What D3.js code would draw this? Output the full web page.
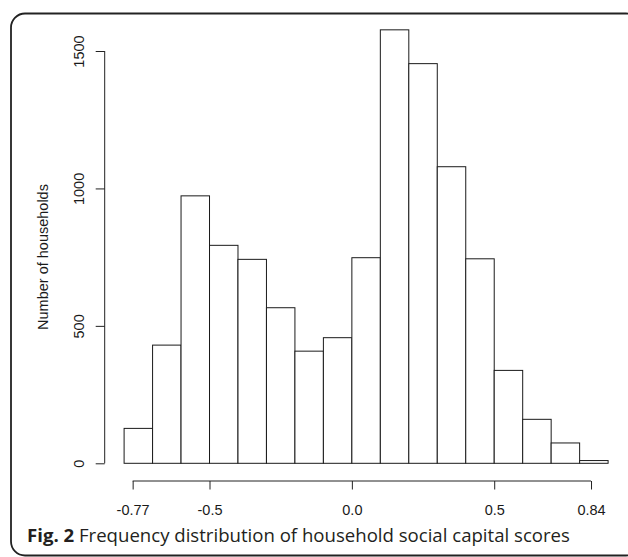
<!DOCTYPE html>
<html>
<head>
<meta charset="utf-8">
<script src="https://cdn.jsdelivr.net/npm/d3@7"></script>
<style>
  html, body { margin: 0; padding: 0; background: #fff; }
  svg { display: block; }
</style>
</head>
<body>
<svg id="chart" width="628" height="557"></svg>
<script>
// ---- Data ----
const binStarts = [-0.8, -0.7, -0.6, -0.5, -0.4, -0.3, -0.2, -0.1, 0.0, 0.1, 0.2, 0.3, 0.4, 0.5, 0.6, 0.7, 0.8];
const binWidth = 0.1;
const counts = [127, 430, 973, 793, 742, 566, 408, 457, 748, 1577, 1454, 1079, 744, 338, 160, 74, 10];
const xTickValues = [-0.77, -0.5, 0.0, 0.5, 0.84];
const xTickLabels = ["-0.77", "-0.5", "0.0", "0.5", "0.84"];
const yTickValues = [0, 500, 1000, 1500];
const yTitle = "Number of households";
const captionBold = "Fig. 2";
const captionText = " Frequency distribution of household social capital scores";

const svg = d3.select("#chart");

// frame
svg.append("rect")
  .attr("x", 11).attr("y", 13.5)
  .attr("width", 629).attr("height", 542)
  .attr("rx", 14).attr("ry", 14)
  .attr("fill", "none").attr("stroke", "#222").attr("stroke-width", 1.8);

const x = d3.scaleLinear().domain([-0.8, 0.9]).range([124.1, 608.1]);
const y = d3.scaleLinear().domain([0, 1500]).range([463.3, 51]);

const bins = binStarts.map((s, i) => ({ x0: s, x1: s + binWidth, n: counts[i] }));

svg.append("g").selectAll("rect").data(bins).join("rect")
  .attr("x", d => x(d.x0))
  .attr("y", d => y(d.n))
  .attr("width", d => x(d.x1) - x(d.x0))
  .attr("height", d => y(0) - y(d.n))
  .attr("fill", "#fff")
  .attr("stroke", "#1a1a1a")
  .attr("stroke-width", 1);

const font = "'Liberation Sans', Arial, Helvetica, sans-serif";

// x axis (R-style: line spans first to last tick)
const xAxis = d3.axisBottom(x)
  .tickValues(xTickValues)
  .tickFormat((d, i) => xTickLabels[i])
  .tickSizeInner(8.5).tickSizeOuter(0).tickPadding(16);
const gx = svg.append("g").attr("transform", "translate(0,481)").call(xAxis);
gx.select(".domain").remove();
gx.append("line")
  .attr("x1", x(xTickValues[0])).attr("x2", x(xTickValues[xTickValues.length - 1]))
  .attr("y1", 0).attr("y2", 0)
  .attr("stroke", "#222").attr("stroke-width", 1);
gx.selectAll(".tick line").attr("stroke", "#222");
gx.selectAll(".tick text")
  .attr("font-family", font).attr("font-size", 14.5).attr("fill", "#1a1a1a")
  .attr("dy", null).attr("y", 33.5);

// y axis
const yAxis = d3.axisLeft(y)
  .tickValues(yTickValues)
  .tickFormat(d3.format("d"))
  .tickSizeInner(9).tickSizeOuter(0);
const gy = svg.append("g").attr("transform", "translate(104.7,0)").call(yAxis);
gy.select(".domain").remove();
gy.append("line")
  .attr("x1", 0).attr("x2", 0)
  .attr("y1", y(0)).attr("y2", y(1500))
  .attr("stroke", "#222").attr("stroke-width", 1);
gy.selectAll(".tick line").attr("stroke", "#222");
gy.selectAll(".tick text")
  .attr("font-family", font).attr("font-size", 14.5).attr("fill", "#1a1a1a")
  .attr("x", null).attr("dy", null)
  .attr("text-anchor", "middle")
  .attr("transform", "translate(-20.7,0) rotate(-90)");

// y title
svg.append("text")
  .attr("transform", "translate(48,257) rotate(-90)")
  .attr("text-anchor", "middle")
  .attr("font-family", font).attr("font-size", 14.5).attr("fill", "#1a1a1a")
  .text(yTitle);

// caption
const cap = svg.append("text")
  .attr("x", 27).attr("y", 542)
  .attr("font-family", "'Open Sans', 'Noto Sans', sans-serif")
  .attr("font-size", 18.6).attr("fill", "#231f20");
cap.append("tspan").attr("font-weight", "bold").text(captionBold);
cap.append("tspan").text(captionText);
</script>
</body>
</html>
